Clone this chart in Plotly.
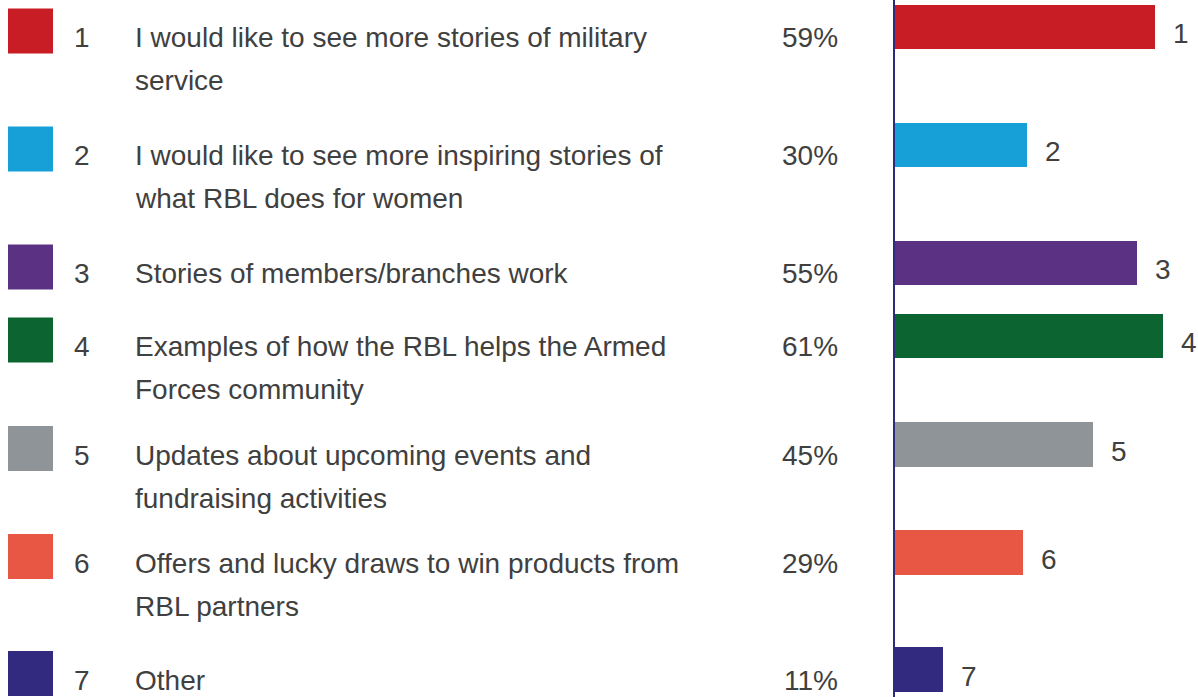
import plotly.graph_objects as go

# ---- data ----
categories = ["1", "2", "3", "4", "5", "6", "7"]
label_lines = [
    ["I would like to see more stories of military", "service"],
    ["I would like to see more inspiring stories of", "what RBL does for women"],
    ["Stories of members/branches work"],
    ["Examples of how the RBL helps the Armed", "Forces community"],
    ["Updates about upcoming events and", "fundraising activities"],
    ["Offers and lucky draws to win products from", "RBL partners"],
    ["Other"],
]
values = [59, 30, 55, 61, 45, 29, 11]
pct_labels = [f"{v}%" for v in values]

# ---- style / layout ----
colors = ["#C91D25", "#17A0D7", "#5B3283", "#0C6431", "#8F9498", "#E85744", "#312A7E"]
W, H = 1198, 697
row_y = [31, 149, 267, 340, 448.5, 556.5, 673.5]   # row slot centres (px units of y axis)
bar_offset = -4
px_per_pct = 4.4
axis_px = 895
line_gap = 43
text_dy = 6.5
font_family = "Arial, Liberation Sans, sans-serif"
txt_color = "#404040"
fs = 28

fig = go.Figure()
fig.add_trace(go.Bar(
    x=values, y=[r + bar_offset for r in row_y], orientation="h",
    marker=dict(color=colors, line_width=0), width=44.5,
    xaxis="x", yaxis="y", hoverinfo="skip", showlegend=False))
fig.add_trace(go.Scatter(
    x=[30.5] * len(categories), y=row_y, mode="markers",
    marker=dict(symbol="square", size=45, color=colors, line_width=0),
    xaxis="x2", yaxis="y", hoverinfo="skip", showlegend=False))

ann = []
for i, cat in enumerate(categories):
    yc = row_y[i] + text_dy
    ann.append(dict(x=72, y=yc, xref="x2", yref="y", text=cat, showarrow=False,
                    xanchor="left", yanchor="middle"))
    for j, line in enumerate(label_lines[i]):
        ann.append(dict(x=133, y=yc + j * line_gap, xref="x2", yref="y", text=line,
                        showarrow=False, xanchor="left", yanchor="middle"))
    ann.append(dict(x=840, y=yc, xref="x2", yref="y", text=pct_labels[i], showarrow=False,
                    xanchor="right", yanchor="middle"))
    ann.append(dict(x=values[i], y=row_y[i] + bar_offset + text_dy, xref="x", yref="y",
                    text=cat, showarrow=False, xanchor="left", yanchor="middle", xshift=16))

fig.update_layout(
    width=W, height=H, margin=dict(l=0, r=0, t=0, b=0, pad=0),
    paper_bgcolor="white", plot_bgcolor="rgba(0,0,0,0)",
    font=dict(family=font_family, size=fs, color=txt_color),
    annotations=ann,
    xaxis=dict(domain=[axis_px / W, 1], range=[0, (W - axis_px) / px_per_pct],
               showgrid=False, zeroline=False, showticklabels=False, showline=False,
               anchor="y"),
    xaxis2=dict(domain=[0, 1], range=[0, W], showgrid=False, zeroline=False,
                showticklabels=False, showline=False, anchor="y"),
    yaxis=dict(domain=[0, 1], range=[H, 0], showgrid=False, zeroline=False,
               showticklabels=False, showline=True, linecolor="#2E2A7E", linewidth=2,
               anchor="x"),
    bargap=0,
)

fig.write_html("out.html", config={"displayModeBar": False},
               post_script="document.body.style.margin='0';document.body.style.overflow='hidden';")
